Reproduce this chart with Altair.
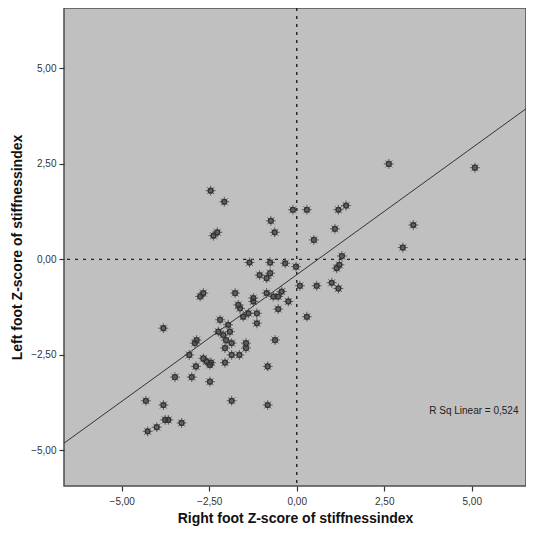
import altair as alt
import pandas as pd

# Scatter values (right foot z, left foot z)
x_vals = [-2.46, -2.07, -2.38, -2.27, -0.74, -0.63, -0.11, 0.29, 1.19, 1.41,
          1.09, 0.49, 1.29, 2.63, 5.09, 3.33, 3.03, -1.35, -0.76, -0.33,
          -0.02, 1.14, 1.22, -1.06, -0.76, -0.86, 0.09, 0.57, 1.00, 1.19,
          -2.76, -2.67, -1.76, -1.24, -1.24, -0.86, -0.67, -0.53, -0.43, -0.24,
          -0.53, 0.29, -1.67, -1.62, -1.38, -1.53, -1.14, -1.14, -2.19, -1.96,
          -1.91, -2.24, -2.10, -2.02, -3.81, -2.86, -2.91, -1.45, -1.45, -1.86,
          -2.05, -0.62, -3.07, -2.67, -2.58, -2.48, -2.45, -1.86, -1.64, -2.05,
          -2.88, -0.83, -3.48, -3.00, -2.48, -4.31, -3.81, -1.86, -0.83, -3.76,
          -3.67, -4.00, -4.26, -3.29]
y_vals = [1.80, 1.51, 0.62, 0.71, 1.01, 0.71, 1.30, 1.30, 1.30, 1.41,
          0.80, 0.51, 0.09, 2.50, 2.40, 0.90, 0.31, -0.08, -0.08, -0.10,
          -0.19, -0.23, -0.14, -0.41, -0.36, -0.49, -0.69, -0.69, -0.61, -0.76,
          -0.97, -0.88, -0.88, -1.01, -1.10, -0.88, -0.97, -0.97, -0.84, -1.10,
          -1.30, -1.50, -1.19, -1.28, -1.41, -1.50, -1.41, -1.67, -1.58, -1.71,
          -1.89, -1.89, -1.98, -2.11, -1.80, -2.11, -2.19, -2.19, -2.32, -2.19,
          -2.32, -2.11, -2.50, -2.59, -2.67, -2.76, -2.70, -2.50, -2.50, -2.70,
          -2.80, -2.80, -3.08, -3.08, -3.20, -3.70, -3.81, -3.70, -3.81, -4.20,
          -4.20, -4.39, -4.50, -4.28]

ticks = [-5, -2.5, 0, 2.5, 5]
x_domain = [-6.65, 6.55]
y_domain = [-5.93, 6.58]
slope = 0.663
intercept = -0.40
r2_label = ["R Sq Linear = 0,524"]
r2_pos_x = [5.06]
r2_pos_y = [-3.98]

x_title = "Right foot Z-score of stiffnessindex"
y_title = "Left foot Z-score of stiffnessindex"

df = pd.DataFrame({"x": x_vals, "y": y_vals})
line_df = pd.DataFrame({"x": x_domain, "y": [intercept + slope * v for v in x_domain]})
zero_df = pd.DataFrame({"x": [0], "y": [0]})
txt_df = pd.DataFrame({"x": r2_pos_x, "y": r2_pos_y, "t": r2_label})

label_expr = "replace(format(datum.value, '.2f'), '.', ',')"
xscale = alt.Scale(domain=x_domain, nice=False, zero=False)
yscale = alt.Scale(domain=y_domain, nice=False, zero=False)

common_axis = dict(values=ticks, labelExpr=label_expr, grid=False, domain=False,
                   tickColor="#333333", tickSize=5, tickWidth=1.2,
                   labelFontSize=10, labelColor="#333333", labelFont="Liberation Sans",
                   titleFontSize=14, titleFont="Liberation Sans", titleFontWeight="bold",
                   titleColor="#111111")
xaxis = alt.Axis(title=x_title, labelPadding=5, titlePadding=5, **common_axis)
yaxis = alt.Axis(title=y_title, labelPadding=3, titlePadding=6, **common_axis)

X = lambda: alt.X("x:Q", scale=xscale, axis=xaxis)
Y = lambda: alt.Y("y:Q", scale=yscale, axis=yaxis)

star_path = ("M-1,0L1,0M0,-1L0,1M-0.7,-0.7L0.7,0.7M-0.7,0.7L0.7,-0.7")

stars = alt.Chart(df).mark_point(shape=star_path, size=100, filled=False,
                                 stroke="#555555", strokeWidth=0.9, opacity=1).encode(x=X(), y=Y())
rings = alt.Chart(df).mark_point(shape="circle", size=22, filled=False,
                                 stroke="#333333", strokeWidth=1.5, opacity=1).encode(x=X(), y=Y())

vrule = alt.Chart(zero_df).mark_rule(color="#222222", strokeWidth=1.4,
                                     strokeDash=[3, 5]).encode(x=X())
hrule = alt.Chart(zero_df).mark_rule(color="#222222", strokeWidth=1.4,
                                     strokeDash=[3, 5]).encode(y=Y())
reg = alt.Chart(line_df).mark_line(color="#333333", strokeWidth=1).encode(x=X(), y=Y())
txt = alt.Chart(txt_df).mark_text(fontSize=10, color="#222222", font="Liberation Sans").encode(
    x=X(), y=Y(), text="t:N")

chart = alt.layer(vrule, hrule, reg, stars, rings, txt).properties(
    width=462, height=478,
    autosize=alt.AutoSizeParams(type="none"),
    padding={"left": 56, "top": 0, "right": 0, "bottom": 40},
    background="white",
).configure_view(fill="#c0c0c0", stroke="#4d4d4d", strokeWidth=1.5)

chart.save("out.html", embed_options={"renderer": "svg", "actions": False})
